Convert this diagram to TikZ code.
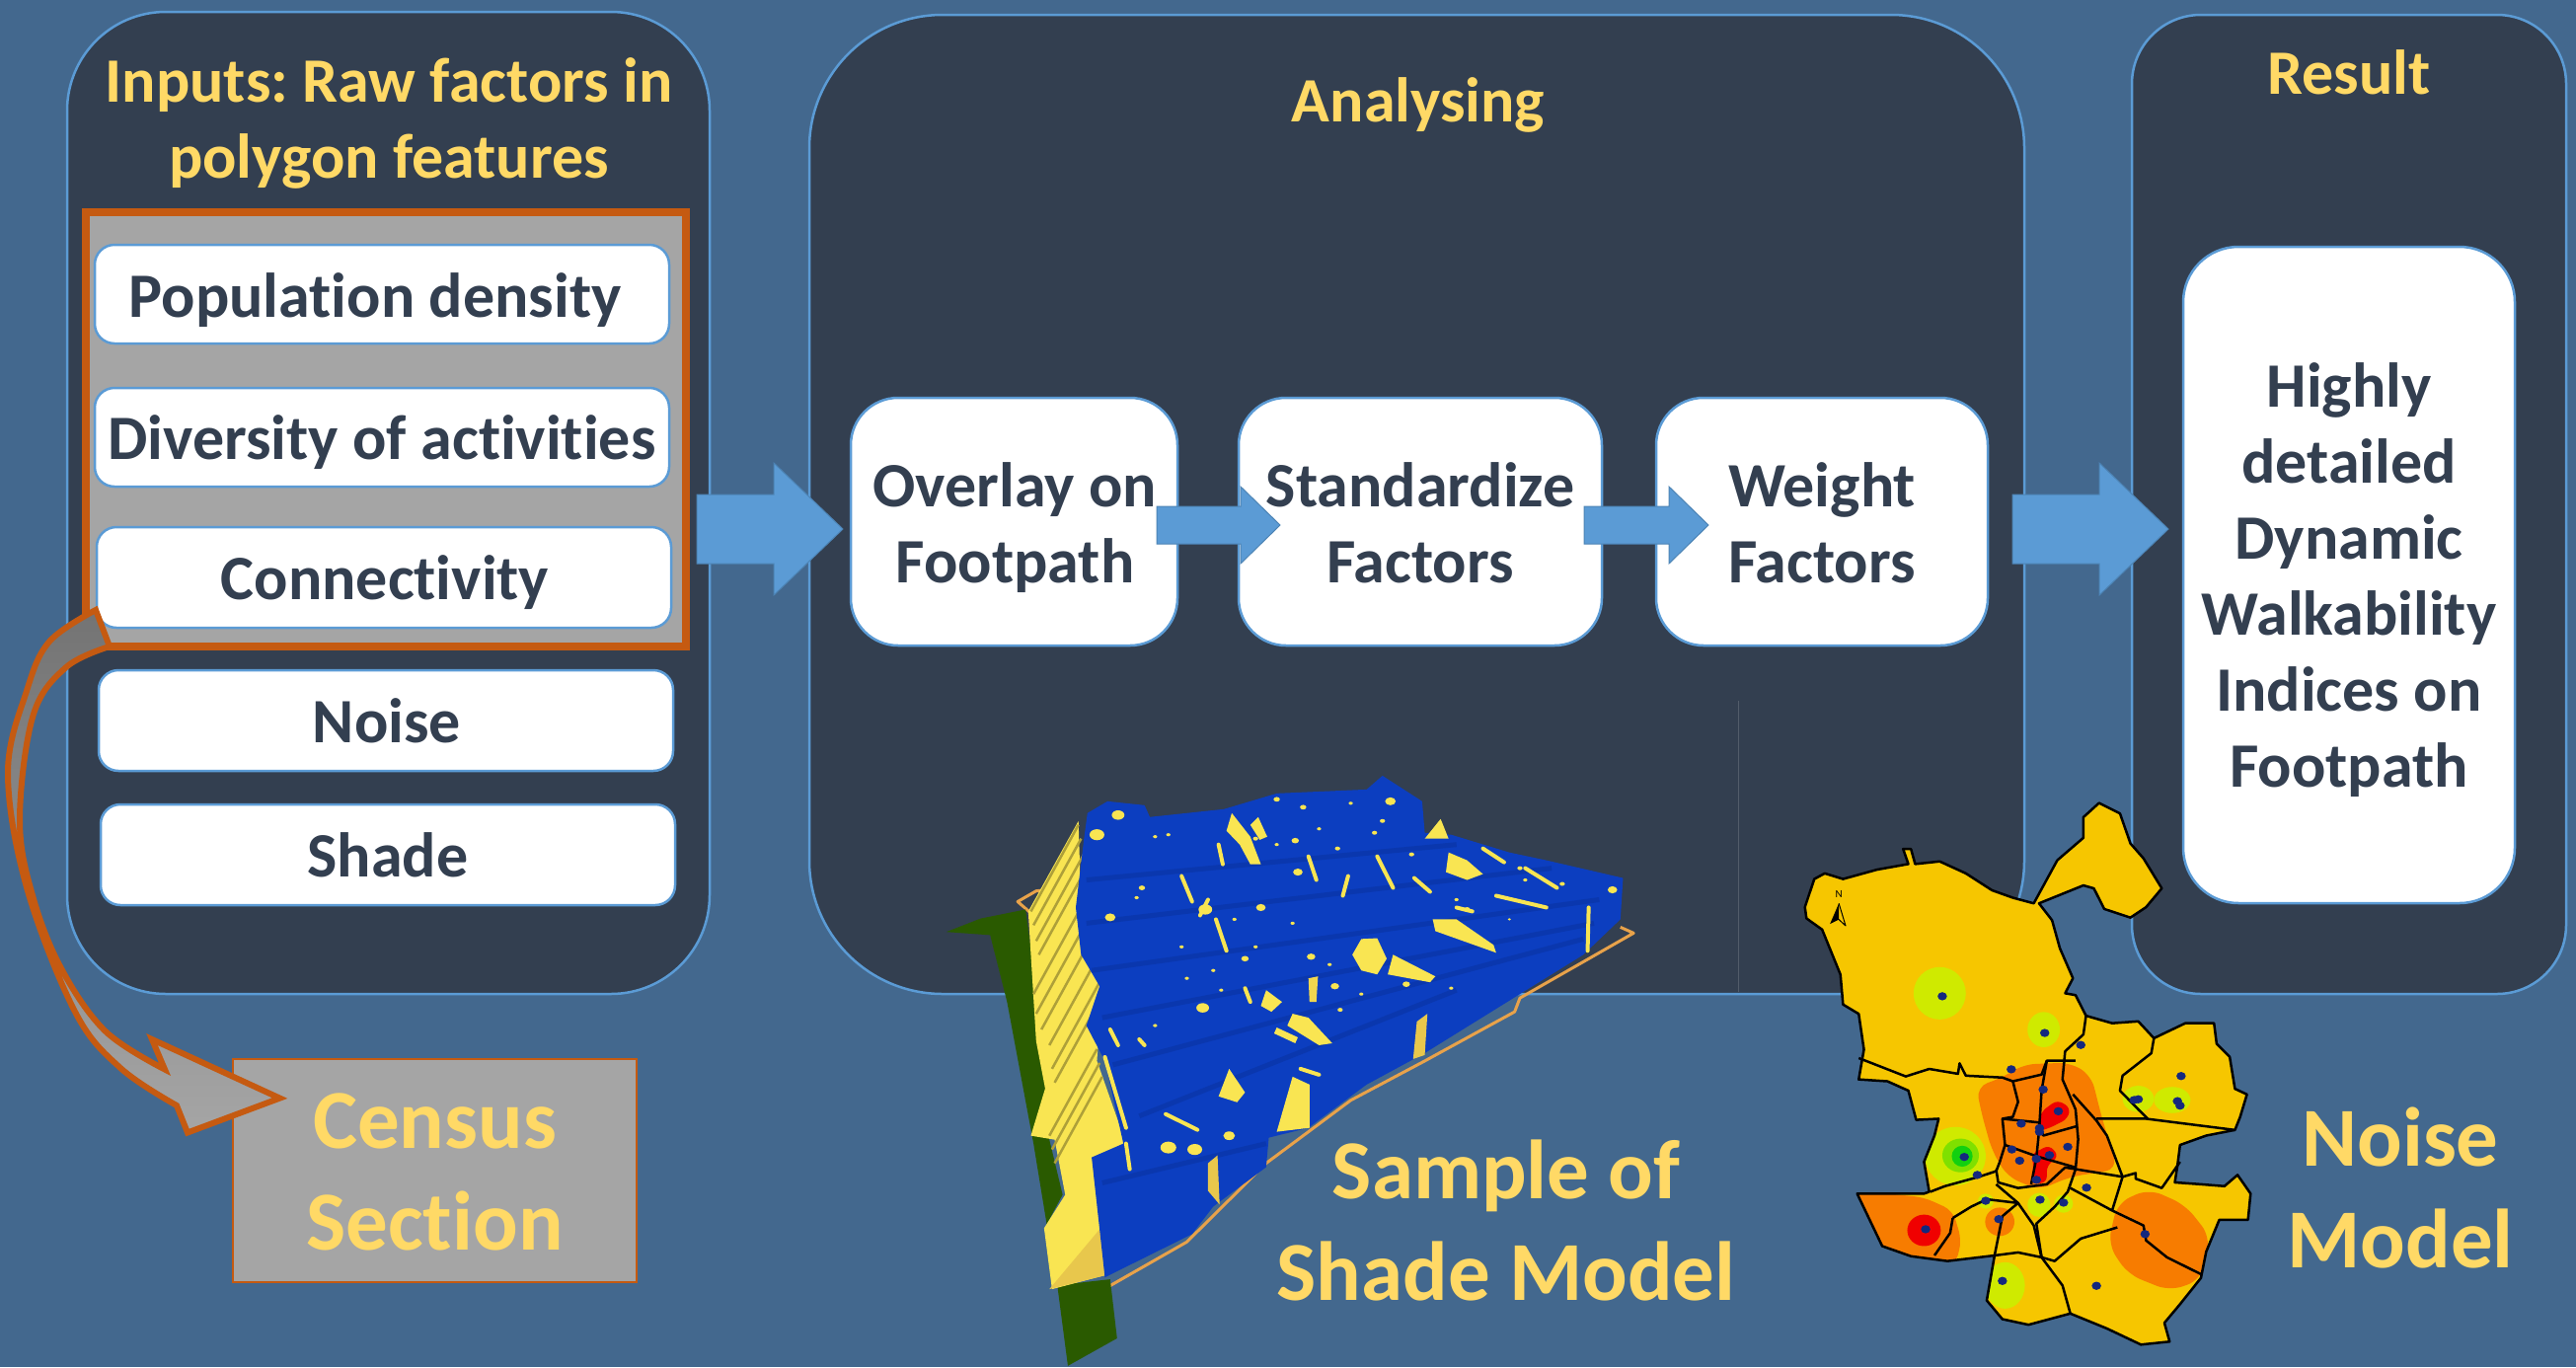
\documentclass[tikz,border=0pt]{standalone}
\usepackage{fontspec}
\setmainfont{Carlito}[Ligatures=NoCommon]
\definecolor{bgc}{HTML}{43688E}
\definecolor{panel}{HTML}{333F50}
\definecolor{edge}{HTML}{5B9BD5}
\definecolor{burnt}{HTML}{C55A11}
\definecolor{graybox}{HTML}{A5A5A5}
\definecolor{gold}{HTML}{FFD966}
\definecolor{sblue}{HTML}{0C3EC0}
\definecolor{sblued}{HTML}{0A37AE}
\definecolor{syell}{HTML}{F9E552}
\definecolor{sgreen}{HTML}{2A5A00}
\definecolor{sline}{HTML}{E8A24A}
\definecolor{mapy}{HTML}{F6C600}
\definecolor{mapo}{HTML}{F77C00}
\definecolor{mapr}{HTML}{F00000}
\definecolor{mapl}{HTML}{CFEA00}
\definecolor{mapg}{HTML}{7FE000}
\definecolor{mapgg}{HTML}{12D010}
\definecolor{mapd}{HTML}{14287E}
\tikzset{
  x=1pt,y=-1pt,
  frame/.style={draw=edge,fill=panel,line width=2.5pt,inner sep=0pt},
  whitebox/.style={draw=edge,fill=white,line width=2.5pt,rounded corners=20pt,inner sep=0pt,text=panel,font=\fontsize{64}{77}\selectfont\bfseries,align=center},
  bigbox/.style={whitebox,rounded corners=52pt},
  goldtext/.style={text=gold,font=\fontsize{64}{77}\selectfont\bfseries,align=center,inner sep=0pt},
  goldbig/.style={text=gold,font=\fontsize{85}{103}\selectfont\bfseries,align=center,inner sep=0pt},
  blockarrow/.style={fill=edge,draw=edge!85!black,line width=1pt},
  bar/.style={line width=4pt,draw=syell,line cap=round},
  dist/.style={draw=black,line width=2.5pt,line join=round},
  dot/.style={fill=mapd},
}
\newcommand{\dn}[1]{\rule{0pt}{#1pt}}
\newcommand{\panelbox}[7]{\node[frame,rounded corners=#6,minimum width={#4-#2},minimum height={#5-#3}] (#1) at ({(#2+#4)/2},{(#3+#5)/2}) {#7};}
\newcommand{\bigarrow}[6]{\draw[blockarrow] (#1,#4-#5) -- (#3,#4-#5) -- (#3,#4-#6) -- (#2,#4) -- (#3,#4+#6) -- (#3,#4+#5) -- (#1,#4+#5) -- cycle;}
\begin{document}
\begin{tikzpicture}
\useasboundingbox (0,0) rectangle (2610,1385);
\fill[bgc] (0,0) rectangle (2610,1385);
% panels
\panelbox{pinputs}{68}{12}{719}{1007}{100pt}{}
\panelbox{panalyse}{820}{15}{2051}{1007}{135pt}{}
\panelbox{presult}{2160}{15}{2600}{1007}{70pt}{}
\draw[panel!85!white,line width=1pt] (1761,710) -- (1761,1005);
% titles
\node[goldtext] (t1) at (394,125) {Inputs:\hspace{-5pt} Raw factors in\\polygon features};
\node[goldtext] (t2) at (1437,106) {Analysing};
\node[goldtext] (t3) at (2380,73) {Result};
% grey frame
\node[draw=burnt,fill=graybox,line width=8pt,minimum width=608pt,minimum height=440pt,inner sep=0pt] (grp) at (391,435) {};
% white boxes
\node[whitebox,minimum width=582pt,minimum height=100pt] (b1) at (387,298) {\dn{57}Population density\hspace*{14pt}};
\node[whitebox,minimum width=582pt,minimum height=100pt] (b2) at (387,443) {\dn{56}Diversity of activities};
\node[whitebox,minimum width=582pt,minimum height=102pt] (b3) at (389,585) {\dn{56}\hspace*{2pt}Connectivity};
\node[whitebox,minimum width=582pt,minimum height=102pt] (b4) at (391,730) {\hspace*{2pt}Noise};
\node[whitebox,minimum width=582pt,minimum height=102pt] (b5) at (393,866) {Shade};
% census
\node[draw=burnt,fill=graybox,line width=2.5pt,minimum width=409pt,minimum height=226pt,inner sep=0pt,goldbig] (census) at (440.5,1186) {\dn{59}Census\\Section};
% curved arrow
\draw[draw=burnt,line width=6pt,line join=miter,top color=graybox!70!black,bottom color=graybox,middle color=graybox!85!black]
  plot[smooth,tension=0.6] coordinates {(97,618) (50,650) (27,700) (8,783) (27,899) (76,1025) (122,1082) (179,1120)}
  -- (190,1147.5) -- (283.5,1112.6) -- (154,1053) -- (167,1083.5)
  -- plot[smooth,tension=0.6] coordinates {(167,1083.5) (107,1045) (62.5,982) (33.5,909) (20,831) (33.5,725) (67,676) (111,655)} -- cycle;
% block arrows
\bigarrow{706}{854}{784}{536}{35}{67}
\bigarrow{2039}{2197}{2127}{536}{35}{67}
% analysis boxes
\node[bigbox,rounded corners=48pt,minimum width=331pt,minimum height=251pt] (o1) at (1027.5,528.5) {\dn{57}\hspace*{2pt}Overlay on\\\hspace*{2pt}Footpath};
\node[bigbox,rounded corners=48pt,minimum width=368pt,minimum height=251pt] (o2) at (1439,528.5) {\dn{47}Standardize\\Factors};
\node[bigbox,rounded corners=48pt,minimum width=336pt,minimum height=251pt] (o3) at (1846,528.5) {\dn{47}Weight\\Factors};
\bigarrow{1172}{1297}{1257}{532}{19}{39}
\bigarrow{1605}{1731}{1691}{532}{19}{39}
\node[bigbox,rounded corners=56pt,minimum width=336pt,minimum height=665pt] (r1) at (2380,582.5) {\dn{56}Highly\\detailed\\Dynamic\\Walkability\\Indices on\\Footpath};
% shade model
\begin{scope}[shift={(940,760)},xscale=0.5357,yscale=0.3986]
\draw[sline,line width=3pt,line join=round] (200,420) -- (170,385) -- (205,358) -- (260,350);
\draw[sline,line width=3pt,line join=round] (340,1365) -- (490,1250) -- (640,1050) -- (800,890) -- (940,790) -- (1110,665) -- (1120,630) -- (1335,465) -- (1310,450);
\fill[sgreen] (35,462) -- (100,428) -- (185,405) -- (215,700) -- (230,990) -- (255,1130) -- (225,1205) -- (200,1000) -- (150,640) -- (118,470) -- cycle;
\fill[sgreen] (245,1360) -- (345,1345) -- (358,1495) -- (265,1565) -- cycle;
\fill[syell] (285,180) -- (190,410) -- (205,740) -- (222,860) -- (195,980) -- (240,990) -- (260,1130) -- (220,1215) -- (235,1370) -- (335,1335) -- (375,1000) -- (320,790) -- (330,590) -- (290,400) -- cycle;
\foreach \pa/\pb in {285/190,290/225,295/265,300/300,290/400,295/450,305/490,320/530,325/590,330/625,320/760,325/795,330/830}{\draw[syell!70!black,line width=2.5pt] (\pa,\pb) -- ({\pa-90},{\pb+220});}
\fill[syell!70!brown] (230,1370) -- (335,1335) -- (330,1210) -- cycle;
\fill[sblue] (295,230) -- (302,160) -- (340,130) -- (410,140) -- (420,170) -- (560,150) -- (660,110) -- (830,100) -- (860,65) -- (935,130) -- (940,210) -- (990,215) -- (1100,260) -- (1170,280) -- (1315,325) -- (1310,430) -- (1240,520) -- (1120,620) -- (940,770) -- (830,850) -- (720,960) -- (645,985) -- (640,1060) -- (540,1160) -- (500,1230) -- (335,1340) -- (310,1035) -- (370,1000) -- (335,790) -- (300,700) -- (325,600) -- (290,520) -- (280,400) -- cycle;
\foreach \pa/\pb/\pc/\pd in {300/330/1000/240,300/440/1180/300,310/560/1270/380,330/680/1260/440,350/800/1240/480,400/930/1000/610,330/1100/640/1000}{\draw[sblued,line width=5pt] (\pa,\pb) -- (\pc,\pd);}
\fill[syell] (575,160) -- (610,220) -- (630,290) -- (610,290) -- (590,240) -- (565,205) -- cycle;
\fill[syell] (625,170) -- (642,220) -- (628,228) -- (610,190) -- cycle;
\fill[syell] (820,480) -- (850,478) -- (868,530) -- (850,570) -- (820,560) -- (803,520) -- cycle;
\fill[syell] (880,520) -- (960,575) -- (950,590) -- (870,570) -- cycle;
\fill[syell] (985,260) -- (1020,280) -- (1050,315) -- (1020,330) -- (980,310) -- cycle;
\fill[syell] (970,175) -- (985,225) -- (940,225) -- cycle;
\fill[syell] (690,670) -- (720,680) -- (765,745) -- (740,750) -- (680,700) -- cycle;
\fill[syell] (640,610) -- (670,640) -- (650,665) -- (630,650) -- cycle;
\fill[syell] (570,810) -- (600,870) -- (585,895) -- (550,880) -- cycle;
\fill[syell] (690,830) -- (722,850) -- (722,960) -- (660,970) -- cycle;
\fill[syell!70!brown] (925,690) -- (945,670) -- (940,775) -- (918,785) -- cycle;
\fill[syell!70!brown] (530,1050) -- (548,1030) -- (552,1155) -- (530,1120) -- cycle;
\fill[syell!85!brown] (720,580) -- (738,575) -- (735,640) -- (722,640) -- cycle;
\fill[syell] (1000,430) -- (955,430) -- (960,460) -- (1075,515) -- (1070,495) -- cycle;
\fill[syell] (660,705) -- (700,730) -- (695,745) -- (655,720) -- cycle;
\foreach \pa/\pb/\pc/\pd in {545/430/565/510,480/320/500/385,530/380/515/420,850/270/880/350,920/325/950/360,1075/370/1170/400,1130/300/1190/350,1050/250/1090/285,720/270/735/330,795/320/785/370,550/240/558/290,335/780/375/960,375/1000/382/1065,450/925/510/965,1250/400/1248/510,705/810/740/825,345/710/360/750,400/735/410/750,600/605/610/640,1000/400/1030/410}{\draw[bar] (\pa,\pb) -- (\pc,\pd);}
\foreach \pa/\pb/\pr in {360/165/12,875/130/10,320/215/14,700/310/9,630/400/9,345/425/10,520/655/12,455/1010/15,505/1015/14,570/980/11,725/525/8,600/530/7,660/125/6,710/145/6,800/135/4,845/210/5,695/230/7,775/250/5,915/265/5,405/350/6,395/375/4,580/430/4,490/580/4,555/610/4,905/595/7,770/600/8,780/660/5,990/605/4,1295/355/9,1020/405/6,525/405/13,760/545/4,1120/300/5,620/225/5,430/220/4,455/215/4,660/240/4,740/200/4,860/180/5,1000/380/4,1100/430/3,690/440/4,620/500/4,480/500/4,540/560/4,430/700/4,820/620/4,1130/330/4,1200/340/5}{\fill[syell] (\pa,\pb) circle [radius=\pr];}
\end{scope}
% noise map
\begin{scope}[shift={(1780,790)},xscale=0.5294,yscale=0.3795]
\path[clip,preaction={fill=mapy}] (92,340) -- (110,265) -- (130,250) -- (165,265) -- (230,240) -- (290,225) -- (280,185) -- (295,185) -- (303,225) -- (350,218) -- (400,250) -- (450,295) -- (490,315) -- (530,330) -- (575,215) -- (625,155) -- (625,100) -- (655,62) -- (695,90) -- (715,170) -- (740,210) -- (775,290) -- (745,340) -- (715,368) -- (665,345) -- (645,290) -- (625,282) -- (540,330) -- (565,375) -- (580,450) -- (605,530) -- (590,570) -- (610,575) -- (630,630) -- (680,650) -- (730,645) -- (760,690) -- (820,650) -- (875,650) -- (880,705) -- (905,740) -- (915,825) -- (938,840) -- (925,900) -- (915,935) -- (860,950) -- (810,975) -- (805,1030) -- (800,1075) -- (850,1080) -- (895,1085) -- (920,1055) -- (945,1105) -- (940,1175) -- (885,1175) -- (860,1260) -- (850,1330) -- (810,1400) -- (780,1450) -- (790,1500) -- (735,1508) -- (670,1465) -- (600,1425) -- (520,1455) -- (470,1440) -- (440,1390) -- (455,1270) -- (365,1285) -- (295,1272) -- (240,1245) -- (192,1105) -- (320,1105) -- (330,1100) -- (320,1020) -- (340,950) -- (348,905) -- (305,908) -- (290,830) -- (250,805) -- (195,800) -- (205,720) -- (195,625) -- (165,600) -- (160,520) -- (125,400) -- (95,370) -- cycle;
\fill[mapo,rounded corners=12pt] (420,820) -- (470,795) -- (510,760) -- (600,755) -- (640,790) -- (660,900) -- (690,1040) -- (600,1060) -- (540,1095) -- (480,1060) -- (450,990) -- (430,890) -- cycle;
\fill[mapo,rounded corners=10pt] (180,1095) -- (320,1115) -- (375,1150) -- (392,1230) -- (380,1295) -- (295,1290) -- (230,1260) -- cycle;
\fill[mapo,rounded corners=14pt] (690,1130) -- (750,1092) -- (820,1135) -- (868,1220) -- (850,1335) -- (790,1365) -- (710,1320) -- (672,1240) -- cycle;
\fill[mapo] (465,1180) ellipse [x radius=28,y radius=38];
\fill[mapr] (320,1203) ellipse [x radius=32,y radius=42];
\fill[mapr,rounded corners=6pt] (575,855) -- (600,875) -- (595,905) -- (560,930) -- (535,940) -- (545,885) -- cycle;
\fill[mapr,rounded corners=6pt] (560,975) -- (578,1005) -- (555,1030) -- (555,1075) -- (525,1080) -- (530,1030) -- (525,1000) -- cycle;
\foreach \pa/\pb/\pc/\pd in {350/570/50/70,549/667/31/47,380/1005/58/78,730/852/30/35,795/855/35/35,540/1135/22/32,587/1132/18/24,438/1125/15/20,475/1350/38/62}{\fill[mapl] (\pa,\pb) ellipse [x radius=\pc,y radius=\pd];}
\fill[mapg] (390,1003) ellipse [x radius=35,y radius=45];
\fill[mapgg] (393,1005) ellipse [x radius=20,y radius=28];
\end{scope}
\begin{scope}[shift={(1780,790)},xscale=0.5294,yscale=0.3795]
\draw[dist] (92,340) -- (110,265) -- (130,250) -- (165,265) -- (230,240) -- (290,225) -- (280,185) -- (295,185) -- (303,225) -- (350,218) -- (400,250) -- (450,295) -- (490,315) -- (530,330) -- (575,215) -- (625,155) -- (625,100) -- (655,62) -- (695,90) -- (715,170) -- (740,210) -- (775,290) -- (745,340) -- (715,368) -- (665,345) -- (645,290) -- (625,282) -- (540,330) -- (565,375) -- (580,450) -- (605,530) -- (590,570) -- (610,575) -- (630,630) -- (680,650) -- (730,645) -- (760,690) -- (820,650) -- (875,650) -- (880,705) -- (905,740) -- (915,825) -- (938,840) -- (925,900) -- (915,935) -- (860,950) -- (810,975) -- (805,1030) -- (800,1075) -- (850,1080) -- (895,1085) -- (920,1055) -- (945,1105) -- (940,1175) -- (885,1175) -- (860,1260) -- (850,1330) -- (810,1400) -- (780,1450) -- (790,1500) -- (735,1508) -- (670,1465) -- (600,1425) -- (520,1455) -- (470,1440) -- (440,1390) -- (455,1270) -- (365,1285) -- (295,1272) -- (240,1245) -- (192,1105) -- (320,1105) -- (330,1100) -- (320,1020) -- (340,950) -- (348,905) -- (305,908) -- (290,830) -- (250,805) -- (195,800) -- (205,720) -- (195,625) -- (165,600) -- (160,520) -- (125,400) -- (95,370) -- cycle;
\draw[dist] (195,743) -- (285,792) -- (330,772) -- (385,785) -- (388,757) -- (400,790) -- (470,795) -- (490,805) -- (545,787) -- (555,750) -- (610,750);
\draw[dist] (630,630) -- (625,680) -- (590,725) -- (585,800) -- (610,880) -- (615,960) -- (610,1040) -- (595,1100) -- (570,1140) -- (535,1185) -- (545,1275);
\draw[dist] (605,840) -- (650,910) -- (670,950) -- (700,1060);
\draw[dist] (490,805) -- (500,860) -- (490,900) -- (470,905) -- (475,975) -- (495,985) -- (535,1005) -- (610,1035);
\draw[dist] (555,750) -- (545,830) -- (540,940) -- (535,1010) -- (525,1080);
\draw[dist] (470,905) -- (540,915) -- (548,950) -- (612,925);
\draw[dist] (475,975) -- (465,1020) -- (458,1045) -- (425,1060) -- (360,1085) -- (332,1100);
\draw[dist] (458,1040) -- (462,1075) -- (500,1090) -- (555,1080) -- (590,1035) -- (700,1060);
\draw[dist] (650,905) -- (745,905) -- (915,935);
\draw[dist] (760,690) -- (755,730) -- (700,790) -- (695,830) -- (730,880) -- (748,905);
\draw[dist] (375,1170) -- (370,1210) -- (340,1270);
\draw[dist] (500,1130) -- (440,1120) -- (410,1140) -- (375,1170);
\draw[dist] (458,1080) -- (500,1130) -- (530,1190) -- (545,1275) -- (500,1262) -- (455,1270);
\draw[dist] (500,1130) -- (470,1165) -- (455,1270);
\draw[dist] (545,1275) -- (585,1350) -- (600,1425);
\draw[dist] (545,1275) -- (570,1285) -- (620,1225) -- (690,1195);
\draw[dist] (600,1090) -- (680,1150) -- (740,1190) -- (745,1230) -- (785,1275) -- (850,1320);
\draw[dist] (700,1060) -- (680,1150);
\draw[dist] (700,1060) -- (725,1050) -- (725,1065) -- (775,1090) -- (810,1020);
\foreach \pa/\pb in {355/578,551/676,620/708,487/773,812/791,548/827,577/885,722/855,730/853,805/858,810/870,506/918,541/930,541/940,595/980,488/987,560/1002,397/1007,503/1017,535/1012,422/1055,535/1068,631/1089,542/1121,587/1129,438/1124,463/1173,323/1200,743/1213,470/1338,650/1351}{\fill[dot] (\pa,\pb) ellipse [x radius=9,y radius=11];}
\fill[black] (157,330) -- (140,385) -- (157,373) -- cycle;
\draw[black,line width=1pt,line join=round] (157,330) -- (170,390) -- (157,373);
\node[font=\fontsize{11}{12}\selectfont,text=black,inner sep=0pt] (north) at (157,305) {N};
\end{scope}
% captions
\node[goldbig] (c1) at (1526,1236) {Sample of\\Shade Model};
\node[goldbig] (c2) at (2432,1203) {Noise\\Model};
\end{tikzpicture}
\end{document}
